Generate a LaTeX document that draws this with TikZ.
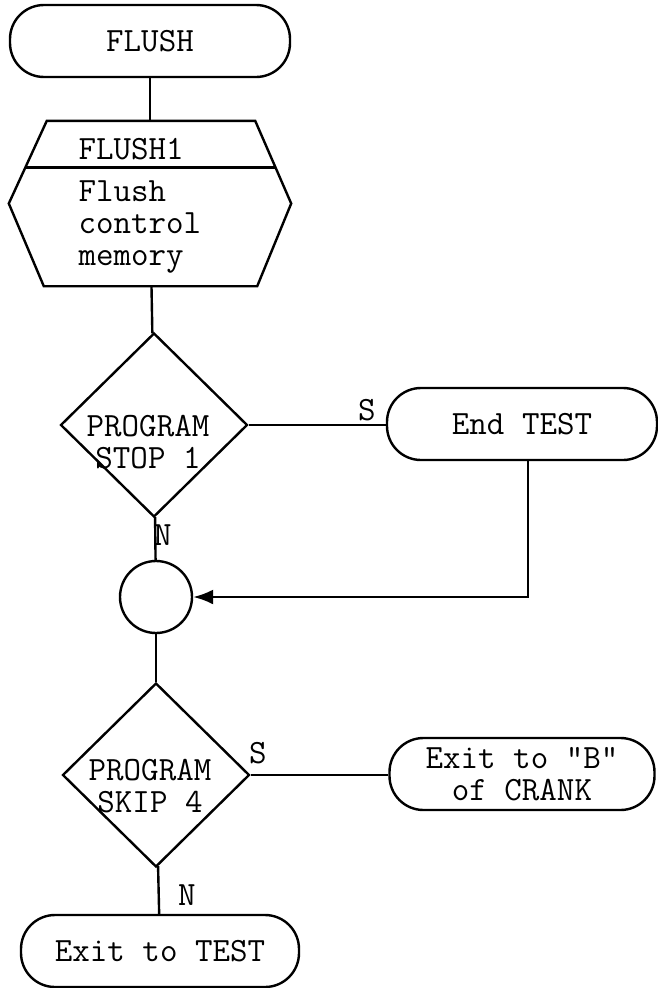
\documentclass[tikz,border=0pt]{standalone}
\usepackage{fontspec}
\usetikzlibrary{arrows.meta}
\usetikzlibrary{calc, shapes.geometric}

\tikzset{
terminal/.style={draw, rounded corners=34pt, minimum width=#1, minimum height=72pt, inner sep=0pt},
decision/.style={draw, diamond, minimum width=187pt, minimum height=184pt, inner sep=0pt},
}

\begin{document}
\begin{tikzpicture}[x=1pt, y=-1pt, line width=2.4pt,
font=\fontsize{34}{32}\selectfont\ttfamily]
\path[use as bounding box] (0,0) rectangle (658,988);

\node[terminal=280pt] (flush) at (150,41) {FLUSH};

% process box with header
\node[minimum width=280pt, minimum height=163pt, inner sep=0pt] (hex) at (150,203.5) {};
\coordinate (hexnw) at ($(hex.north west)+(38,0)$);
\coordinate (hexne) at ($(hex.north east)+(-36,0)$);
\coordinate (hexse) at ($(hex.south east)+(-34,0)$);
\coordinate (hexsw) at ($(hex.south west)+(35,0)$);
\draw (hexnw) -- (hexne) -- (hex.east) -- (hexse) -- (hexsw) -- (hex.west) -- cycle;
\draw ($(hex.west)!0.436!(hexnw)$) -- ($(hex.east)!0.436!(hexne)$);
\node[anchor=west] (hexhead) at (74,149) {FLUSH1};
\node[anchor=west, align=left] (hexbody) at (74,227) {Flush\\control\\memory};

\node[decision] (stop) at (154,425) {};
\node[align=center] (stoptxt) at (148,442) {PROGRAM\\STOP 1};
\node[terminal=270pt] (endtest) at (522,424) {End TEST};

\node[draw, circle, minimum size=72pt, inner sep=0pt] (join) at (156,597) {};

\node[decision] (skip) at (156,775) {};
\node[align=center] (skiptxt) at (150,786) {PROGRAM\\SKIP 4};
\node[terminal=265pt, align=center] (exitb) at (522,774) {Exit to "B"\\of CRANK};
\node[terminal=278pt] (exittest) at (160,951) {Exit to TEST};

\node (s1) at (367,410) {S};
\node (n1) at (163,535) {N};
\node (s2) at (258,753) {S};
\node (n2) at (187,895) {N};

\draw (flush) -- (hex);
\draw (hex) -- (stop);
\draw (stop) -- (join);
\draw (join) -- (skip);
\draw (skip) -- (exittest);
\draw (stop.east) -- (stop.east -| endtest.west);
\draw[-{Latex[length=20pt, width=15pt]}] ([xshift=6pt]endtest.south) |- (join.east);
\draw (skip.east) -- (skip.east -| exitb.west);
\end{tikzpicture}
\end{document}
